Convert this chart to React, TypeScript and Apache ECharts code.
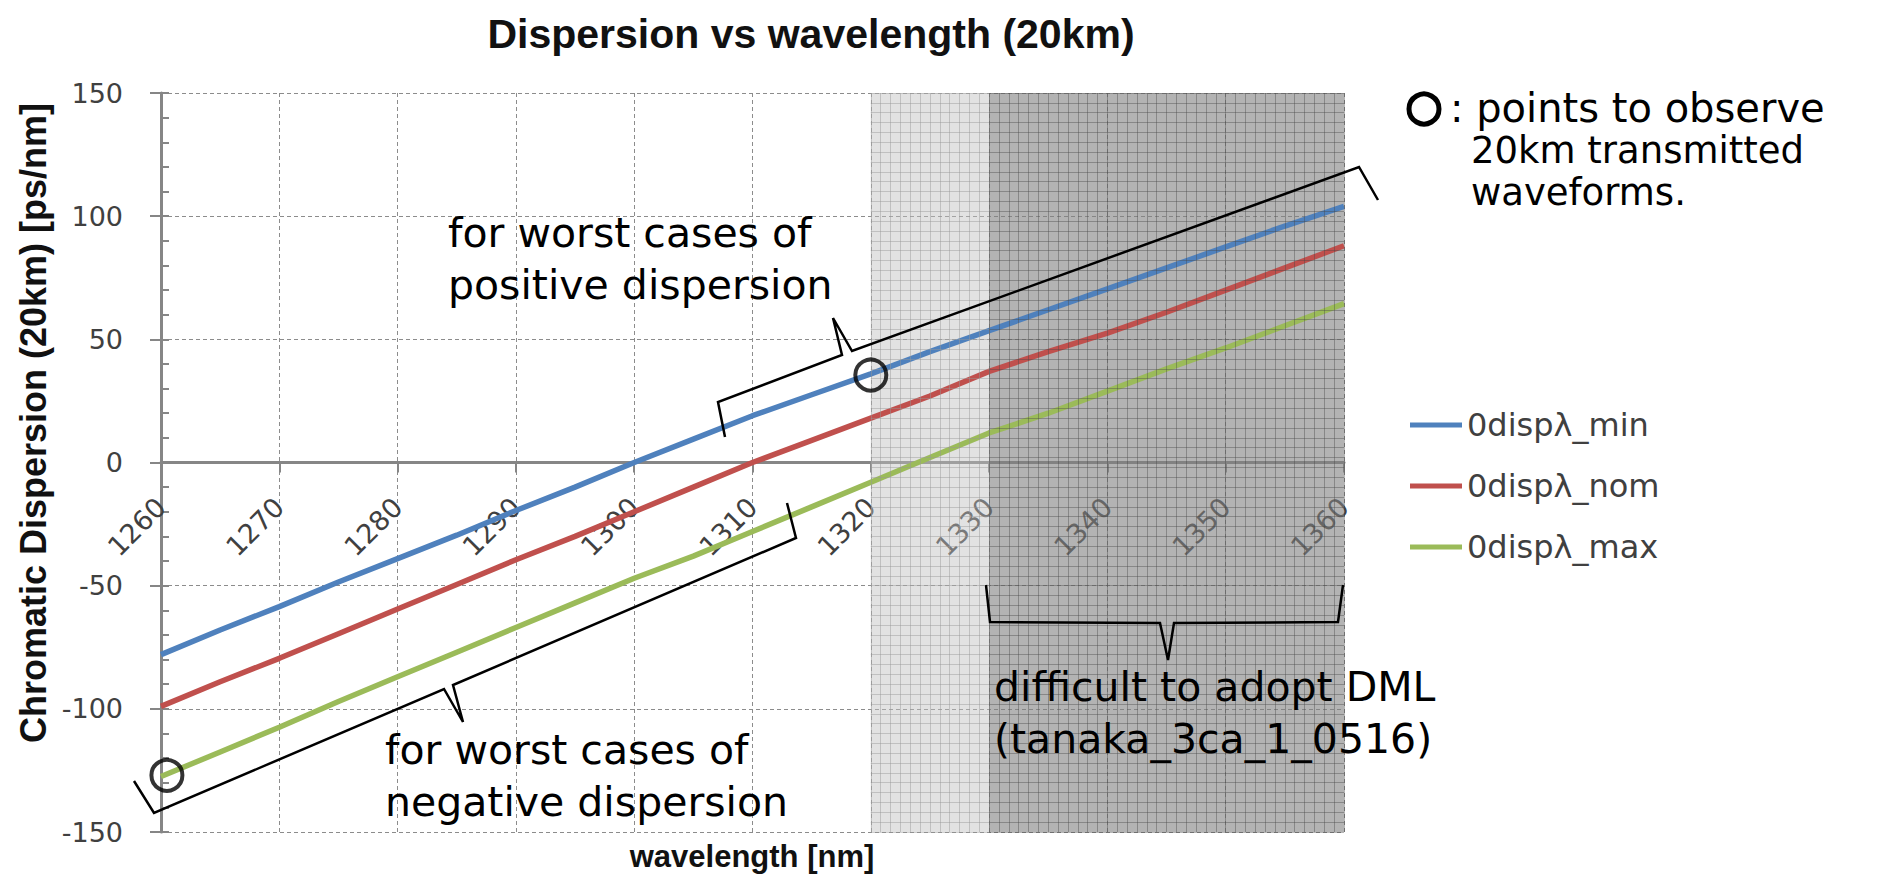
import React, { useEffect, useRef } from "react";
import * as echarts from "echarts";

// ---------- data ----------
const wavelengths = [1260, 1265, 1270, 1275, 1280, 1285, 1290, 1295, 1300, 1305, 1310, 1315, 1320, 1325, 1330, 1335, 1340, 1345, 1350, 1355, 1360];
const dispMin = [-78, -68, -58.5, -48.5, -39, -29.5, -19.5, -10, 0, 9.5, 19, 27.5, 36, 45, 53.5, 62, 70.5, 79, 87.5, 96, 104];
const dispNom = [-99, -89, -79.5, -69.5, -59.5, -49.5, -39.5, -30, -20, -10, 0, 9, 18, 27, 37, 45, 52.5, 61, 70, 79, 88];
const dispMax = [-127.5, -117.5, -107.5, -97, -87, -77, -67, -57, -47, -38, -28, -18, -8, 2, 12, 20, 29, 38, 46.5, 55.5, 64.5];
const seriesNames = ["0dispλ_min", "0dispλ_nom", "0dispλ_max"];
const seriesColors = ["#4f81bd", "#c0504d", "#9bbb59"];
const observePoints = [[1320, 35.5], [1260.5, -127]];
const lightBand = [1320, 1330];
const darkBand = [1330, 1360];
const xRange = [1260, 1360];
const yRange = [-150, 150];
const titleText = "Dispersion vs wavelength (20km)";
const xTitle = "wavelength [nm]";
const yTitle = "Chromatic Dispersion (20km) [ps/nm]";

// ---------- layout ----------
const W = 1888;
const H = 877;
const PLOT = { left: 161, top: 93, width: 1183, height: 739 };
const xToPx = (v: number) => PLOT.left + ((v - xRange[0]) / (xRange[1] - xRange[0])) * PLOT.width;
const yToPx = (v: number) => PLOT.top + ((yRange[1] - v) / (yRange[1] - yRange[0])) * PLOT.height;

const FONT = "DejaVu Sans";
const BOLD = "Liberation Sans";
const AXIS_GRAY = "#868686";

function pairs(ys: number[]) {
  return wavelengths.map((x, i) => [x, ys[i]]);
}

export default function App() {
  const ref = useRef<HTMLDivElement>(null);

  useEffect(() => {
    document.body.style.margin = "0";
    if (!ref.current) return;
    const chart = echarts.init(ref.current, undefined, { renderer: "svg" });

    const hiddenAxis = {
      axisLine: { show: false },
      axisTick: { show: false },
      axisLabel: { show: false },
    };

    const lightLeft = xToPx(lightBand[0]);
    const lightW = xToPx(lightBand[1]) - lightLeft;
    const darkLeft = xToPx(darkBand[0]);
    const darkW = xToPx(darkBand[1]) - darkLeft;
    const zeroY = yToPx(0);

    const annotationStyle = { fill: "#000", fontFamily: FONT, fontSize: 41, lineHeight: 52 };
    const gridBase = { top: PLOT.top, height: PLOT.height, outerBoundsMode: "none", containLabel: false };

    const option: any = {
      animation: false,
      backgroundColor: "#fff",
      grid: [
        { ...gridBase, left: PLOT.left, width: PLOT.width },
        { ...gridBase, left: lightLeft, width: lightW },
        { ...gridBase, left: darkLeft, width: darkW },
        // upper half grid: its bottom edge is the zero line, carrying the x axis
        { top: PLOT.top, height: zeroY - PLOT.top, left: PLOT.left, width: PLOT.width, outerBoundsMode: "none", containLabel: false },
      ],
      xAxis: [
        {
          type: "value",
          gridIndex: 0,
          min: xRange[0],
          max: xRange[1],
          interval: 10,
          ...hiddenAxis,
          splitLine: { show: true, lineStyle: { color: "#8c8c8c", width: 1, type: [4, 3] } },
        },
        {
          type: "value", gridIndex: 1, min: 0, max: 12, interval: 1, z: 6, ...hiddenAxis,
          splitLine: { show: true, lineStyle: { color: "rgba(150,150,150,0.45)", width: 1 } },
        },
        {
          type: "value", gridIndex: 2, min: 0, max: 36, interval: 1, z: 6, ...hiddenAxis,
          splitLine: { show: true, lineStyle: { color: "rgba(70,70,70,0.4)", width: 1 } },
        },
        {
          type: "value",
          gridIndex: 3,
          position: "bottom",
          min: xRange[0],
          max: xRange[1],
          interval: 10,
          axisLine: { show: true, onZero: false, lineStyle: { color: AXIS_GRAY, width: 3 } },
          axisTick: { show: true, length: 10, lineStyle: { color: AXIS_GRAY, width: 2 } },
          axisLabel: {
            rotate: 45, margin: 40, fontSize: 27, color: "#404040", fontFamily: FONT,
            formatter: (v: number) => String(v),
          },
          splitLine: { show: false },
        },
      ],
      yAxis: [
        {
          type: "value",
          gridIndex: 0,
          min: yRange[0],
          max: yRange[1],
          interval: 50,
          axisLine: { show: true, onZero: false, lineStyle: { color: AXIS_GRAY, width: 3 } },
          axisTick: { show: true, length: 11, lineStyle: { color: AXIS_GRAY, width: 2 } },
          axisLabel: { margin: 38, fontSize: 27, color: "#404040", fontFamily: FONT },
          splitLine: { show: true, lineStyle: { color: "#8c8c8c", width: 1, type: [4, 3] } },
        },
        {
          type: "value",
          gridIndex: 0,
          min: yRange[0],
          max: yRange[1],
          interval: 10,
          position: "left",
          axisLine: { show: false, onZero: false },
          axisTick: { show: true, inside: true, length: 8, lineStyle: { color: AXIS_GRAY, width: 2 } },
          axisLabel: { show: false },
          splitLine: { show: false },
        },
        {
          type: "value", gridIndex: 1, min: 0, max: 75, interval: 1, z: 6, ...hiddenAxis,
          splitLine: { show: true, lineStyle: { color: "rgba(150,150,150,0.45)", width: 1 } },
        },
        {
          type: "value", gridIndex: 2, min: 0, max: 75, interval: 1, z: 6, ...hiddenAxis,
          splitLine: { show: true, lineStyle: { color: "rgba(70,70,70,0.4)", width: 1 } },
        },
        {
          type: "value", gridIndex: 3, min: 0, max: 1, ...hiddenAxis,
          splitLine: { show: false },
        },
      ],
      legend: {
        data: seriesNames,
        orient: "vertical",
        left: 1410,
        top: 409,
        padding: 0,
        icon: "rect",
        itemWidth: 52,
        itemHeight: 5,
        itemGap: 29,
        textStyle: { fontSize: 32, lineHeight: 32, color: "#404040", fontFamily: FONT },
      },
      series: [
        ...[dispMin, dispNom, dispMax].map((ys, i) => ({
          name: seriesNames[i],
          type: "line",
          xAxisIndex: 0,
          yAxisIndex: 0,
          data: pairs(ys),
          symbol: "none",
          showSymbol: false,
          lineStyle: { color: seriesColors[i], width: 5.5 },
          itemStyle: { color: seriesColors[i] },
          z: 2,
        })),
        {
          type: "line",
          xAxisIndex: 0,
          yAxisIndex: 0,
          data: [],
          z: 5,
          silent: true,
          markArea: {
            silent: true,
            data: [
              [
                { xAxis: lightBand[0], yAxis: yRange[0], itemStyle: { color: "rgba(190,190,190,0.45)" } },
                { xAxis: lightBand[1], yAxis: yRange[1] },
              ],
              [
                { xAxis: darkBand[0], yAxis: yRange[0], itemStyle: { color: "rgba(128,128,128,0.6)" } },
                { xAxis: darkBand[1], yAxis: yRange[1] },
              ],
            ],
          },
        },
        {
          type: "scatter",
          xAxisIndex: 0,
          yAxisIndex: 0,
          data: observePoints,
          symbol: "circle",
          symbolSize: 31,
          itemStyle: { color: "rgba(0,0,0,0)", borderColor: "#000", borderWidth: 4 },
          z: 10,
          silent: true,
        },
      ],
      graphic: [
        {
          type: "text", x: 811, y: 34, z: 20,
          style: { text: titleText, fill: "#111", fontFamily: BOLD, fontWeight: "bold", fontSize: 41, align: "center", verticalAlign: "middle" },
        },
        {
          type: "text", x: 752, y: 856, z: 20,
          style: { text: xTitle, fill: "#111", fontFamily: BOLD, fontWeight: "bold", fontSize: 31, align: "center", verticalAlign: "middle" },
        },
        {
          type: "text", x: 33, y: 423, rotation: Math.PI / 2, z: 20,
          style: { text: yTitle, fill: "#111", fontFamily: BOLD, fontWeight: "bold", fontSize: 36, align: "center", verticalAlign: "middle" },
        },
        {
          type: "text", x: 448, y: 207, z: 20,
          style: { ...annotationStyle, text: "for worst cases of\npositive dispersion", align: "left", verticalAlign: "top" },
        },
        {
          type: "text", x: 385, y: 724, z: 20,
          style: { ...annotationStyle, text: "for worst cases of\nnegative dispersion", align: "left", verticalAlign: "top" },
        },
        {
          type: "text", x: 994, y: 661, z: 20,
          style: { ...annotationStyle, text: "difficult to adopt DML\n(tanaka_3ca_1_0516)", align: "left", verticalAlign: "top" },
        },
        {
          type: "circle", z: 20,
          shape: { cx: 1424, cy: 109, r: 15 },
          style: { fill: "none", stroke: "#000", lineWidth: 5 },
        },
        {
          type: "text", x: 1450, y: 87, z: 20,
          style: { text: ": points to observe", fill: "#000", fontFamily: FONT, fontSize: 40, lineHeight: 42, align: "left", verticalAlign: "top" },
        },
        {
          type: "text", x: 1471, y: 129, z: 20,
          style: { text: "20km transmitted\nwaveforms.", fill: "#000", fontFamily: FONT, fontSize: 37, lineHeight: 42, align: "left", verticalAlign: "top" },
        },
        {
          type: "polyline", z: 20,
          shape: { points: [[725, 437], [718, 402], [842, 355], [833, 318], [852, 351], [1359, 167], [1378, 200]] },
          style: { stroke: "#000", lineWidth: 2.5, fill: "none" },
        },
        {
          type: "polyline", z: 20,
          shape: { points: [[134, 781], [154, 813], [444, 689], [463, 722], [453, 685], [796, 538], [787, 503]] },
          style: { stroke: "#000", lineWidth: 2.5, fill: "none" },
        },
        {
          type: "polyline", z: 20,
          shape: { points: [[986, 585], [990, 622], [1160, 623], [1168, 660], [1174, 623], [1338, 622], [1343, 585]] },
          style: { stroke: "#000", lineWidth: 2.5, fill: "none" },
        },
      ],
    };

    chart.setOption(option);
    return () => chart.dispose();
  }, []);

  return <div ref={ref} style={{ width: W, height: H }} />;
}
